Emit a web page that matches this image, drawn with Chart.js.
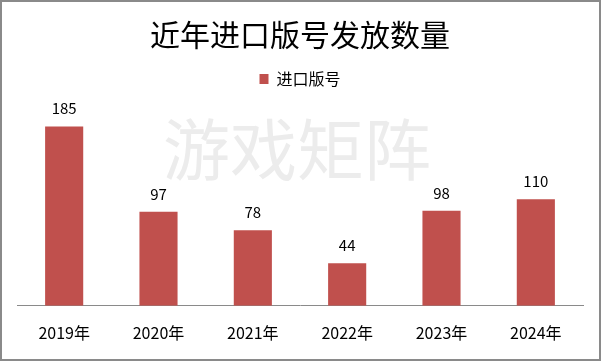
<!DOCTYPE html>
<html><head><meta charset="utf-8">
<script src="https://cdn.jsdelivr.net/npm/chart.js@4"></script>
<style>html,body{margin:0;padding:0;background:#fff}#wrap{width:601px;height:361px;position:relative}</style>
</head><body><div id="wrap"><canvas id="c" width="601" height="361"></canvas></div>
<script>
const categories = ["2019年","2020年","2021年","2022年","2023年","2024年"];
const seriesName = "进口版号";
const values = [185, 97, 78, 44, 98, 110];
const chartTitle = "近年进口版号发放数量";
const watermark = "游戏矩阵";
const CJK = '"Microsoft YaHei","Noto Sans CJK SC","Noto Sans",sans-serif';

const extras = {
  id: 'extras',
  beforeInit(chart) {
    const lg = chart.legend;
    if (lg) {
      const origFit = lg.fit;
      lg.fit = function () { origFit.call(this); this.height += 15; };
    }
  },
  beforeDatasetsDraw(chart) {
    const ctx = chart.ctx;
    ctx.save();
    ctx.fillStyle = '#ececec';
    ctx.font = '67px ' + CJK;
    ctx.textAlign = 'center';
    ctx.textBaseline = 'middle';
    ctx.fillText(watermark, 297, 150);
    ctx.restore();
  },
  afterDatasetsDraw(chart) {
    const ctx = chart.ctx;
    const meta = chart.getDatasetMeta(0);
    ctx.save();
    ctx.fillStyle = '#000';
    ctx.font = '15px ' + CJK;
    ctx.textAlign = 'center';
    ctx.textBaseline = 'middle';
    meta.data.forEach((bar, i) => {
      ctx.fillText(String(values[i]), bar.x, bar.y - 18);
    });
    ctx.restore();
  },
  afterDraw(chart) {
    const ctx = chart.ctx;
    ctx.save();
    ctx.strokeStyle = '#8a8a8a';
    ctx.lineWidth = 2;
    ctx.strokeRect(1, 1, 599, 359);
    ctx.restore();
  }
};

new Chart(document.getElementById('c'), {
  type: 'bar',
  data: {
    labels: categories,
    datasets: [{
      label: seriesName,
      data: values,
      backgroundColor: '#C0504D',
      borderWidth: 0,
      barPercentage: 0.404,
      categoryPercentage: 1.0
    }]
  },
  options: {
    responsive: false,
    animation: false,
    devicePixelRatio: 1,
    layout: { padding: { left: 17, right: 18, top: 17, bottom: 0 } },
    plugins: {
      title: {
        display: true,
        text: chartTitle,
        color: '#000',
        font: { family: CJK, size: 30, weight: 'normal' },
        padding: { top: 0, bottom: 8 }
      },
      legend: {
        display: true,
        labels: {
          color: '#000',
          font: { family: CJK, size: 16 },
          boxWidth: 9, boxHeight: 10,
          padding: 10
        }
      },
      tooltip: { enabled: false }
    },
    scales: {
      x: {
        grid: { display: false, drawTicks: false },
        border: { display: true, color: '#8a8a8a', width: 1 },
        ticks: { color: '#000', font: { family: CJK, size: 16 }, padding: 18 }
      },
      y: {
        display: false,
        min: 0, max: 200
      }
    }
  },
  plugins: [extras]
});
</script></body></html>
